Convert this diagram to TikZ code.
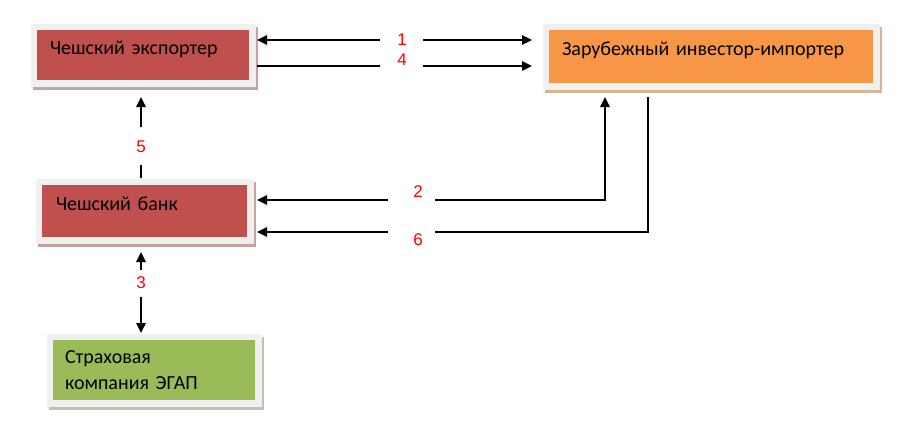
\documentclass[tikz,border=0pt]{standalone}
\usepackage{fontspec}
\setmainfont{Carlito}
\newfontfamily\numfont{Liberation Sans}
\usetikzlibrary{arrows.meta}
\definecolor{redbox}{HTML}{C0504D}
\definecolor{orangebox}{HTML}{F79646}
\definecolor{greenbox}{HTML}{9BBB59}
\definecolor{framegray}{HTML}{F0F0F0}
\definecolor{shred}{HTML}{C4A3A3}
\definecolor{shorange}{HTML}{D8B493}
\definecolor{shgreen}{HTML}{BDC3B2}
\tikzset{
  box/.style={rectangle, inner xsep=13pt, inner ysep=0pt, align=left, text=black,
    font=\fontsize{20}{26}\selectfont},
  framed/.style={preaction={draw=#1, line width=13pt, transform canvas={xshift=2pt,yshift=-3pt}},
    preaction={draw=framegray, line width=13pt}},
  num/.style={text=red, inner sep=0pt, font=\numfont\fontsize{17}{17}\selectfont},
  arr/.style={line width=1.6pt, draw=black},
  >={Triangle[length=10pt,width=9.5pt]}
}
\begin{document}
\begin{tikzpicture}[x=1pt,y=-1pt]
\fill[white] (0,0) rectangle (900,434);
\useasboundingbox (0,0) rectangle (900,434);

\node[box, framed=shred, fill=redbox, text width=186pt, minimum height=50pt,
  text height=10pt, text depth=11pt, outer xsep=8pt, outer ysep=17pt]
  (exp) at (143,55) {Чешский экспортер};
\node[box, framed=shorange, fill=orangebox, text width=298pt, minimum height=53pt,
  text height=10pt, text depth=12pt, outer xsep=17pt, outer ysep=14pt]
  (imp) at (711,56.5) {Зарубежный инвестор-импортер};
\node[box, framed=shred, fill=redbox, text width=177pt, inner xsep=14pt, minimum height=52pt,
  text height=10pt, text depth=12pt, outer xsep=10pt, outer ysep=7pt]
  (bank) at (144.5,211) {Чешский банк};
\node[box, framed=shgreen, fill=greenbox, text width=178pt, inner xsep=12pt, minimum height=60pt,
  outer ysep=7pt]
  (ins) at (154,370) {Страховая\\компания ЭГАП};

\node[num] (l1) at (402,40) {1};
\node[num] (l4) at (402,60) {4};
\node[num] (l5) at (141,147) {5};
\node[num] (l2) at (418,192) {2};
\node[num] (l6) at (418,240) {6};
\node[num] (l3) at (141,283) {3};

\coordinate (g1a) at (380,40);  \coordinate (g1b) at (423,40);
\coordinate (g4a) at (380,66);  \coordinate (g4b) at (423,66);
\coordinate (g5a) at (141,165); \coordinate (g5b) at (141,127);
\coordinate (g2a) at (388,200); \coordinate (g2b) at (435,200);
\coordinate (g6a) at (388,232); \coordinate (g6b) at (435,232);
\coordinate (g3a) at (141,270); \coordinate (g3b) at (141,297);
\coordinate (x2) at (605,200);  \coordinate (x6) at (648,232);

\draw[arr,<-] (exp.east |- g1a) -- (g1a);
\draw[arr,->] (g1b) -- (imp.west |- g1b);
\draw[arr] (exp.east |- g4a) -- (g4a);
\draw[arr,->] (g4b) -- (imp.west |- g4b);
\draw[arr] (bank.north -| g5a) -- (g5a);
\draw[arr,->] (g5b) -- (exp.south -| g5b);
\draw[arr,<-] (bank.east |- g2a) -- (g2a);
\draw[arr,->] (g2b) -- (x2) -- (imp.south -| x2);
\draw[arr] (imp.south -| x6) -- (x6) -- (g6b);
\draw[arr,<-] (bank.east |- g6a) -- (g6a);
\draw[arr,<-,shorten <=8pt] (bank.south -| g3a) -- (g3a);
\draw[arr,->] (g3b) -- (ins.north -| g3b);
\end{tikzpicture}
\end{document}
